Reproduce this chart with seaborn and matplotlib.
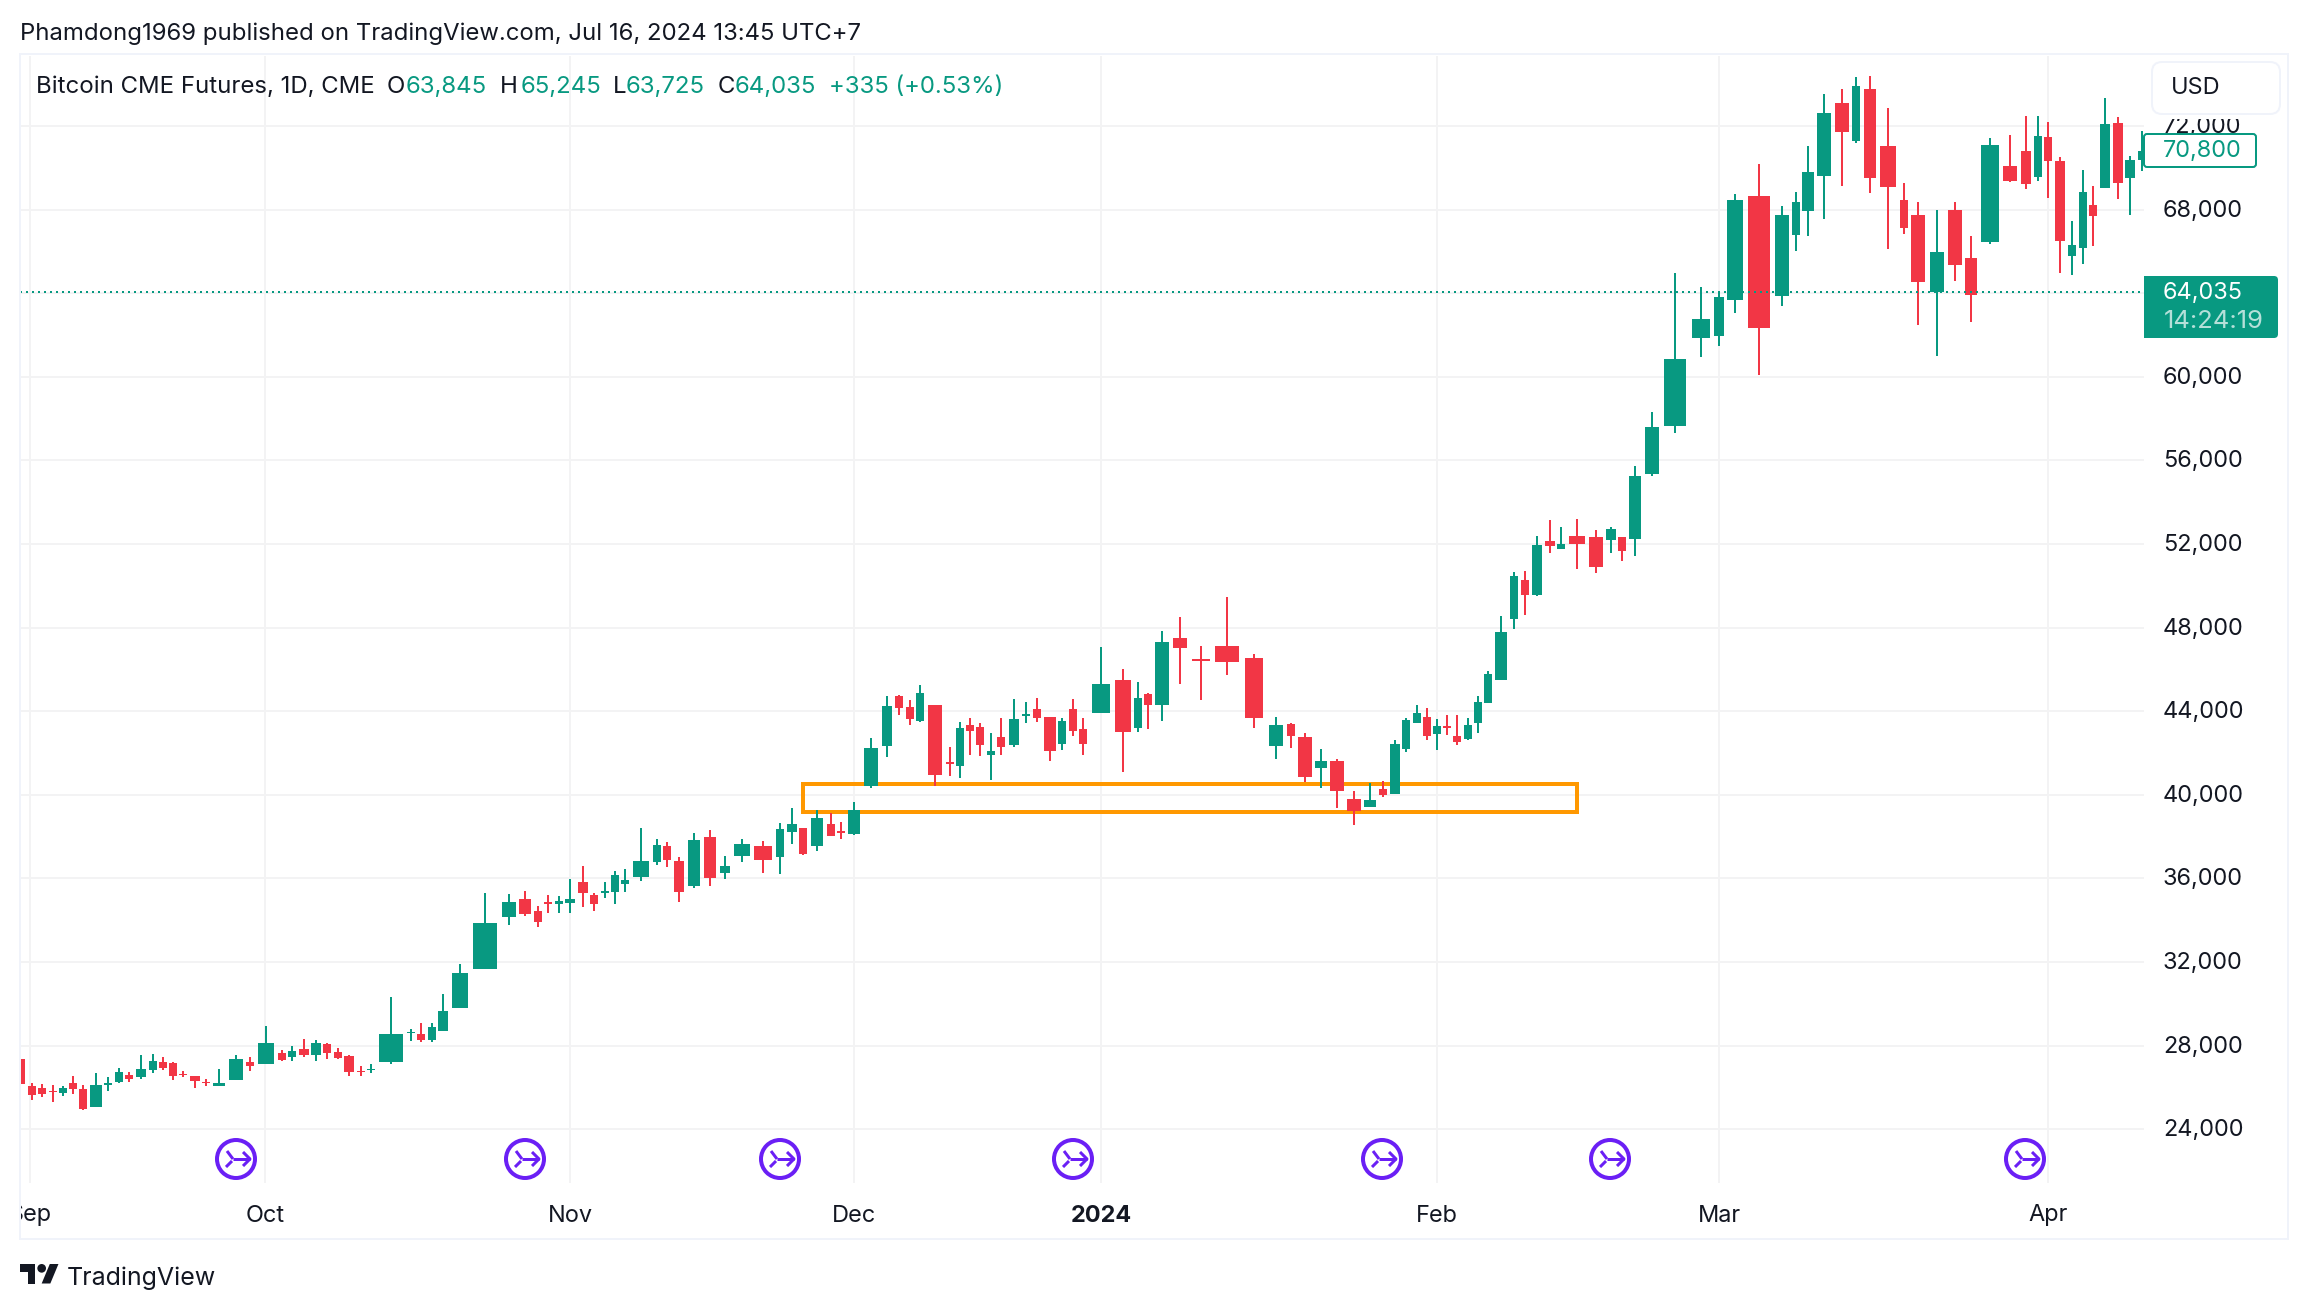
"""Bitcoin CME futures volume candles, TradingView look."""

import matplotlib.pyplot as plt
import numpy as np
import pandas as pd
import seaborn as sns
from matplotlib.patches import Circle, FancyBboxPatch, Polygon, Rectangle
from matplotlib.lines import Line2D
from matplotlib.transforms import Affine2D, ScaledTranslation

GREEN = "#089981"
RED = "#F23645"
INK = "#131722"
FRAME = "#F0F3FA"
GRID = "#F3F3F4"
ORANGE = "#FF9800"
PURPLE = "#6A1FF5"

# position of each session on the volume-candle time scale, and its volume width
session_x = [
    20, 31.8, 41.7, 52.8, 62.8, 72.7, 82.7, 96, 107.9, 119,
    129, 140.8, 152.7, 163, 173, 183, 195.2, 206.3, 218.9, 235.7,
    249.9, 266, 282, 292, 304.2, 316.1, 326.8, 337.9, 349, 360.9,
    370.8, 390.7, 411, 421, 432, 443.2, 460, 485, 509, 525,
    538, 548, 559, 570, 583, 594, 605, 615, 625, 641,
    657, 667, 679, 694, 710, 725, 742, 763, 780, 792,
    803, 817, 831, 841, 854, 871, 887, 899, 910, 920,
    935, 950, 960, 970, 980, 991, 1001, 1014, 1026, 1037,
    1050, 1062, 1073, 1083, 1101, 1123, 1138, 1148, 1162, 1180,
    1201, 1227, 1254, 1276, 1291, 1305, 1321, 1337, 1354, 1370,
    1383, 1395, 1406, 1417, 1427, 1437, 1447, 1457, 1468, 1478,
    1488, 1501, 1514, 1525, 1537, 1550, 1561, 1577, 1596, 1611,
    1622, 1635, 1652, 1675, 1701, 1719, 1735, 1759, 1782, 1796,
    1808, 1824, 1842, 1856, 1870, 1888, 1904, 1918, 1937, 1955,
    1971, 1990, 2010, 2026, 2038, 2048, 2060, 2072, 2083, 2093,
    2105, 2118, 2130, 2142,
]
session_volume = [
    10, 8, 8, 8, 8, 8, 8, 12.5, 8, 8,
    8, 10, 8, 8, 8, 8, 10, 8, 12, 14,
    8, 16, 8, 8, 10, 10, 8, 8, 10, 8,
    8, 24, 8, 8, 8, 10, 16, 24, 14, 12,
    8, 8, 8, 10, 10, 8, 8, 8, 8, 16,
    8, 8, 10, 12, 12, 10, 16, 18, 8, 10,
    8, 12, 8, 8, 12, 14, 10, 8, 8, 8,
    14, 8, 8, 8, 8, 8, 8, 10, 8, 8,
    12, 8, 8, 8, 18, 16, 8, 8, 14, 14,
    18, 24, 18, 14, 8, 14, 12, 14, 14, 12,
    8, 10, 8, 8, 8, 8, 8, 8, 8, 8,
    8, 12, 8, 8, 10, 10, 8, 16, 14, 10,
    8, 12, 14, 22, 18, 10, 16, 22, 14, 8,
    12, 14, 14, 8, 12, 16, 8, 14, 14, 14,
    12, 18, 14, 10, 8, 8, 10, 8, 8, 8,
    10, 10, 10, 8,
]
opens = [
    27380, 26085, 25990, 25830, 25750, 26230, 25940, 25080, 26135, 26275,
    26610, 26515, 26850, 27235, 27185, 26660, 26565, 26275, 26085, 26375,
    27235, 27140, 27665, 27475, 27855, 27570, 28095, 27715, 27520, 26805,
    26835, 27235, 28590, 28575, 28285, 28720, 29820, 31645, 34135, 34995,
    34420, 34850, 34755, 34805, 35810, 35185, 35280, 35330, 35715, 36050,
    36765, 37530, 36815, 35615, 37960, 36240, 37055, 37530, 37005, 38200,
    38390, 37530, 38585, 38250, 38105, 40430, 42345, 44735, 44210, 43540,
    44305, 41580, 41390, 43350, 43255, 41915, 42775, 42395, 43780, 44115,
    43730, 42440, 44115, 43160, 43925, 45505, 43205, 44835, 44285, 47495,
    46490, 47110, 46535, 42325, 43380, 42755, 41275, 41610, 39790, 39405,
    40270, 40030, 42180, 43425, 43715, 42900, 43280, 42805, 42660, 43425,
    44385, 45485, 48415, 50280, 49565, 52145, 51765, 52385, 52340, 52195,
    52340, 52250, 55360, 57655, 61865, 61960, 63695, 68670, 63885, 66805,
    67950, 69625, 73120, 71300, 73790, 71060, 68480, 67760, 64075, 68000,
    65705, 66470, 70105, 70825, 69580, 71495, 70345, 65800, 66180, 68240,
    69055, 72165, 69530, 70395,
]
highs = [
    27715, 26215, 26180, 26135, 26085, 26565, 26135, 26710, 26515, 26945,
    26755, 27570, 27615, 27475, 27235, 26805, 26565, 26420, 26900, 27570,
    27475, 28955, 27810, 28000, 28335, 28285, 28145, 27905, 27570, 27045,
    27140, 30345, 28815, 29100, 29100, 30490, 31925, 35280, 35235, 35380,
    34660, 35185, 35140, 35950, 36575, 35280, 35810, 36335, 36430, 38390,
    37865, 37725, 37005, 38155, 38295, 37055, 37865, 37770, 38630, 39350,
    38390, 39255, 39110, 38680, 39635, 42725, 44735, 44785, 44545, 45265,
    44305, 42295, 43495, 43685, 43445, 42965, 43685, 44595, 44450, 44640,
    43730, 43685, 44595, 43685, 47080, 46030, 45405, 44880, 47830, 48500,
    47110, 49455, 46725, 43715, 43425, 42945, 42180, 41705, 40170, 40555,
    40650, 42610, 43665, 44285, 44145, 43615, 43810, 43810, 43665, 44720,
    45915, 48545, 50665, 50710, 52385, 53150, 52815, 53200, 52675, 52815,
    52340, 55740, 58325, 64975, 64305, 64065, 68765, 70200, 68190, 68860,
    71060, 73550, 73790, 74365, 74410, 72880, 69290, 68385, 68000, 68385,
    66755, 71445, 71590, 72500, 72500, 72210, 70535, 67475, 69915, 69150,
    73360, 72450, 70585, 71780,
]
lows = [
    25990, 25415, 25560, 25320, 25610, 25705, 24940, 25080, 25845, 26230,
    26275, 26420, 26710, 26850, 26375, 26515, 25990, 26085, 26085, 26375,
    26805, 27140, 27280, 27280, 27475, 27280, 27380, 27380, 26565, 26565,
    26710, 27140, 28240, 28190, 28190, 28720, 29820, 31645, 33750, 34180,
    33655, 34325, 34325, 34325, 34610, 34420, 35045, 34755, 35330, 35855,
    36620, 36525, 34850, 35520, 35615, 35950, 36765, 36240, 36190, 37625,
    37100, 37290, 38010, 37865, 38060, 40335, 41820, 43830, 43350, 43495,
    40430, 40910, 40815, 41915, 41865, 40720, 41915, 42295, 43445, 43495,
    41625, 42155, 42825, 41915, 43925, 41100, 43015, 43160, 43520, 45290,
    44525, 45725, 43185, 41705, 42230, 40605, 40315, 39360, 38545, 39405,
    39885, 40030, 42040, 43425, 42610, 42135, 42850, 42375, 42610, 42945,
    44385, 45485, 47935, 48605, 49515, 51575, 51765, 50805, 50615, 51575,
    51190, 51435, 55265, 57320, 60955, 61485, 63070, 60105, 63405, 66040,
    66755, 67570, 69150, 71205, 68815, 66135, 66850, 62495, 61015, 64605,
    62640, 66375, 69340, 69005, 69390, 68575, 64985, 64890, 65415, 66275,
    69055, 68525, 67760, 69865,
]
closes = [
    26180, 25655, 25705, 25765, 25990, 25940, 24985, 26135, 26230, 26755,
    26420, 26900, 27280, 26945, 26565, 26580, 26325, 26215, 26230, 27380,
    27045, 28145, 27330, 27760, 27570, 28145, 27665, 27425, 26755, 26740,
    26900, 28575, 28655, 28285, 28910, 29675, 31495, 33845, 34850, 34275,
    33895, 34755, 34900, 34995, 35280, 34755, 35380, 36145, 35905, 36815,
    37580, 36860, 35330, 37820, 36000, 36575, 37625, 36860, 38345, 38585,
    37150, 38870, 38010, 38155, 39255, 42250, 44260, 44165, 43635, 44880,
    40955, 41485, 43205, 43060, 42395, 42105, 42295, 43635, 43875, 43685,
    42105, 43540, 43060, 42440, 45310, 43015, 44640, 44305, 47300, 47015,
    46390, 46345, 43665, 43330, 42805, 40840, 41610, 40170, 39215, 39740,
    39980, 42420, 43570, 43905, 42805, 43280, 43185, 42515, 43330, 44430,
    45770, 47780, 50470, 49565, 51955, 51910, 52005, 52005, 50905, 52720,
    51670, 55265, 57610, 60860, 62775, 63830, 68480, 62355, 67760, 68385,
    69820, 72640, 71730, 73935, 69530, 69100, 67140, 64555, 65990, 65370,
    63935, 71110, 69390, 69245, 71540, 70345, 66515, 66325, 68860, 67715,
    72115, 69290, 70395, 70825,
]

price_ticks = list(range(24000, 72001, 4000))
month_ticks = [30, 265, 570, 854, 1101, 1437, 1719, 2048]
month_labels = ["Sep", "Oct", "Nov", "Dec", "2024", "Feb", "Mar", "Apr"]
idea_x = [236, 525, 780, 1073, 1382, 1610, 2025]
last_price = 64035
zone_left, zone_right = 803, 1577
zone_low, zone_high = 39177, 40517

W, H = 2308, 1310
PX = 0.72  # points per pixel at dpi 100

sns.set_theme(style="white")
plt.rcParams["font.family"] = ["Inter", "DejaVu Sans"]

fig = plt.figure(figsize=(W / 100, H / 100), dpi=100, facecolor="white")
ax = fig.add_axes([20 / W, 1 - 1183 / H, 2124 / W, (1183 - 56) / H])
# pixel coordinates of the page, y downwards, for the furniture round the chart
page = Affine2D().scale(1 / W, -1 / H).translate(0, 1) + fig.transFigure

df = pd.DataFrame({"x": session_x, "w": session_volume, "open": opens,
                   "high": highs, "low": lows, "close": closes})
df["direction"] = np.where(df["close"] >= df["open"], "up", "down")
df["session"] = df.index
palette = {"up": GREEN, "down": RED}

# --- Wicks, one short line per session ---
wicks = df.melt(id_vars=["session", "x", "direction"], value_vars=["high", "low"],
                value_name="price").sort_values(["session", "variable"])
sns.lineplot(data=wicks, x="x", y="price", hue="direction", palette=palette,
             units="session", estimator=None, sort=False, legend=False,
             lw=2 * PX, solid_capstyle="butt", zorder=2, ax=ax)

# --- Bodies, width follows volume ---
ax.bar(df["x"], (df["close"] - df["open"]).abs(), bottom=df[["open", "close"]].min(axis=1),
       width=df["w"], color=df["direction"].map(palette), linewidth=0, zorder=3)

ax.add_patch(Rectangle((zone_left, zone_low), zone_right - zone_left, zone_high - zone_low,
                       fill=False, edgecolor=ORANGE, lw=4 * PX, joinstyle="miter", zorder=1.5))
ax.axhline(last_price, color=GREEN, lw=2 * PX, ls=(0, (1, 2)), dash_capstyle="butt", zorder=4)

ax.set_xlim(20, 2144)
ax.set_ylim(21426, 75349)
ax.set_xlabel("")
ax.set_ylabel("")
ax.yaxis.tick_right()
ax.set_yticks(price_ticks)
ax.set_yticklabels([f"{p:,}" for p in price_ticks])
ax.set_xticks(month_ticks)
ax.set_xticklabels(month_labels)
ax.get_xticklabels()[4].set_fontweight("bold")
ax.tick_params(axis="y", length=0, pad=19 * PX, labelsize=23.5 * PX, labelcolor=INK)
ax.tick_params(axis="x", length=0, pad=21.5 * PX, labelsize=23.5 * PX, labelcolor=INK)
ax.grid(True, color=GRID, lw=2 * PX)
ax.set_axisbelow(True)
for s in ax.spines.values():
    s.set_visible(False)
# the scale text sits a little above its gridline
lift = ScaledTranslation(0, 1.5 * PX / 72, fig.dpi_scale_trans)
for t in ax.get_yticklabels():
    t.set_transform(t.get_transform() + lift)


def label(x, y, s, color=INK, size=23.5, ha="left", **kw):
    fig.text(x, y, s, transform=page, color=color, fontsize=size * PX, ha=ha, va="center", **kw)


def box(x0, y0, x1, y1, face, edge, radius=4, lw=2, z=1):
    p = FancyBboxPatch((x0, y0), x1 - x0, y1 - y0, boxstyle=f"round,pad=0,rounding_size={radius}",
                       transform=page, facecolor=face, edgecolor=edge, lw=lw * PX, zorder=z)
    fig.add_artist(p)


# --- Outer frame, also cuts the Sep label on its left side ---
fig.add_artist(Rectangle((0, 1186), 19, 50, transform=page, facecolor="white", edgecolor="none", zorder=1))
fig.add_artist(Rectangle((20, 54), 2268, 1185, transform=page, fill=False, edgecolor=FRAME, lw=2 * PX, zorder=2))

# --- Header and OHLC legend ---
label(20, 33.5, "Phamdong1969 published on TradingView.com, Jul 16, 2024 13:45 UTC+7", size=23.9)
label(36, 87, "Bitcoin CME Futures, 1D, CME", size=24)
for x, s, c in [(387, "O", INK), (406, "63,845", GREEN), (500, "H", INK), (521, "65,245", GREEN),
                (613, "L", INK), (626, "63,725", GREEN), (718, "C", INK), (735, "64,035", GREEN),
                (829, "+335 (+0.53%)", GREEN)]:
    label(x, 87, s, color=c, size=24)

# --- Price scale furniture ---
fig.add_artist(Rectangle((2150, 62), 135, 57, transform=page, facecolor="white", edgecolor="none", zorder=1))
box(2152, 62, 2280, 114, "white", FRAME, radius=10)
label(2171, 88.5, "USD", size=23.5)
box(2144, 134, 2256, 167, "white", GREEN, radius=3)
label(2163, 151, "70,800", color=GREEN)
box(2144, 276, 2278, 338, GREEN, "none", radius=4)
fig.add_artist(Rectangle((2144, 276), 10, 62, transform=page, facecolor=GREEN, edgecolor="none", zorder=1))
label(2163, 293, "64,035", color="white")
label(2164, 322, "14:24:19", color="#B5E0D9", size=25.5)

# --- Published idea markers along the bottom ---
icon_y = 1159
for x in idea_x:
    fig.add_artist(Circle((x, icon_y), 19, transform=page, facecolor="white", edgecolor=PURPLE, lw=4 * PX, zorder=1))
    for xs, ys in [([-3, 14], [0, 0]), ([7, 14, 7], [-7, 0, 7]), ([-9, -3], [-8, 0]), ([-10, -4], [8, 2])]:
        fig.add_artist(Line2D(np.add(x, xs), np.add(icon_y, ys), transform=page, color=PURPLE,
                              lw=3 * PX, solid_capstyle="butt", zorder=2))

# --- TradingView logo ---
u = 39 / 36
lx, ly = 20, 1264 - 4 * u
logo_t = [(14, 22), (7, 22), (7, 11), (0, 11), (0, 4), (14, 4)]
logo_slash = [(28, 22), (20, 22), (27.5, 4), (35.5, 4)]
for shape in (logo_t, logo_slash):
    fig.add_artist(Polygon([(lx + a * u, ly + b * u) for a, b in shape], closed=True, transform=page,
                           facecolor=INK, edgecolor="none", zorder=1))
fig.add_artist(Circle((lx + 20 * u, ly + 8 * u), 4 * u, transform=page, facecolor=INK, edgecolor="none", zorder=1))
label(67, 1278, "TradingView", size=25)

fig.savefig("out.png", dpi=100, facecolor="white")
